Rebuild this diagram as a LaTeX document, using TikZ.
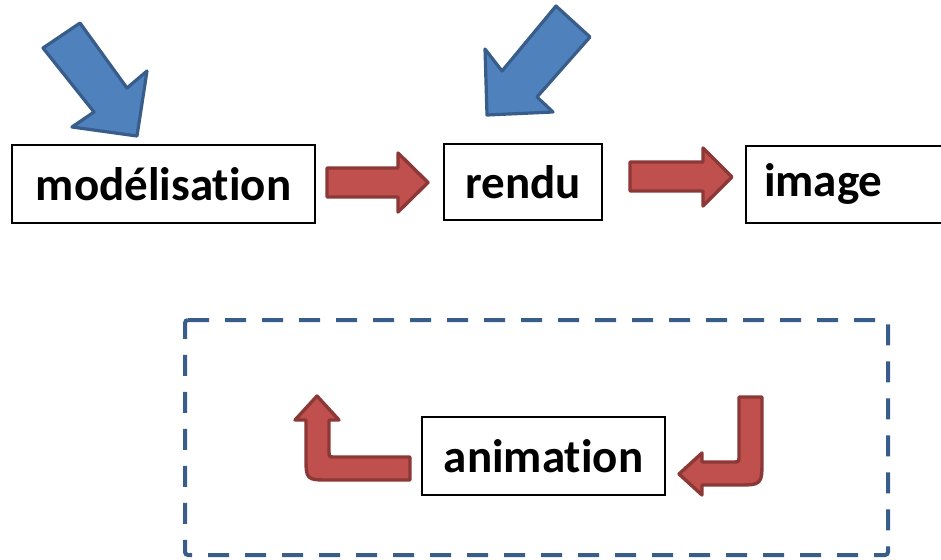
\documentclass[tikz,border=0pt]{standalone}
\usepackage{fontspec}
\setmainfont[Ligatures={NoCommon}]{Carlito}
\usepackage{xcolor}

\definecolor{redfill}{HTML}{C0504D}
\definecolor{redline}{HTML}{8C3836}
\definecolor{bluefill}{HTML}{4F81BD}
\definecolor{blueline}{HTML}{385D8A}

\tikzset{
  stagebox/.style={draw=black, line width=1pt, fill=white, inner sep=0pt,
    font=\fontsize{23.5}{28}\selectfont\bfseries},
  redblock/.style={fill=redfill, draw=redline, line width=1.7pt, line join=round},
  blueblock/.style={fill=bluefill, draw=blueline, line width=1.6pt, line join=round},
  loopframe/.style={draw=blueline, line width=2pt, dash pattern=on 10.5pt off 8pt,
    rounded corners=1.5pt}
}

\begin{document}
\begin{tikzpicture}[x=0.5pt, y=-0.5pt]
  \useasboundingbox (0,0) rectangle (941,559);
  \clip (0,0) rectangle (941,559);

  % chain of stages
  \node (model)[stagebox, minimum width=151.5pt, minimum height=39pt] at (163.5,184) {modélisation};
  \node (rendu)[stagebox, minimum width=79pt, minimum height=38pt] at (523,182) {rendu};
  \node (image)[stagebox, anchor=west, minimum height=38.5pt, text width=100pt,
    align=left, inner xsep=9pt] at (745,184) {image};

  % red arrows between the stages
  \draw[redblock] (327,168) -- (398,168) -- (398,153) -- (428,182.5)
    -- (398,212) -- (398,197) -- (327,197) -- cycle;
  \draw[redblock] (630,162) -- (703,162) -- (703,148) -- (732,177)
    -- (703,206) -- (703,191) -- (630,191) -- cycle;

  % blue arrows coming in from above
  \draw[blueblock] (43,48) -- (80,23) -- (127,88) -- (147,71) -- (137,136)
    -- (72,127) -- (94,112) -- cycle;
  \draw[blueblock] (556,6) -- (590,37) -- (537,97) -- (553,112) -- (487,115)
    -- (485,49) -- (502,71) -- cycle;

  % animation loop
  \draw[loopframe] (185,320) -- (888,320) -- (888,555) -- (185,555) -- cycle;
  \node (anim)[stagebox, minimum width=121.5pt, minimum height=39pt] at (543.5,456) {animation};

  \draw[redblock] (410,457) -- (335,457) .. controls (329,457) .. (329,451)
    -- (329,420) -- (339,420) -- (317,396) -- (295,420) -- (306,420)
    -- (306,456) .. controls (306,480) .. (330,480) -- (410,480) -- cycle;
  \draw[redblock] (739,397) -- (739,456) .. controls (739,462) .. (733,462)
    -- (702,462) -- (702,453) -- (679,474) -- (702,495) -- (702,485)
    -- (736,485) .. controls (762,485) .. (762,459) -- (762,397) -- cycle;
\end{tikzpicture}
\end{document}
